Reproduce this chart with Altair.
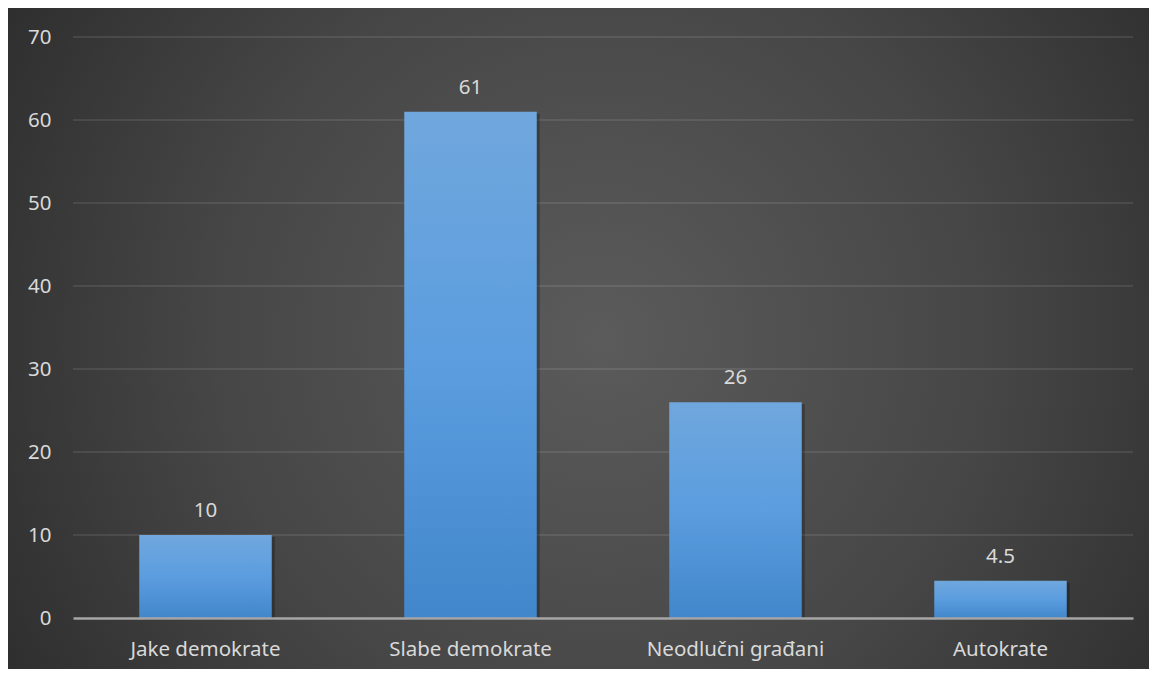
import altair as alt
import pandas as pd

categories = ["Jake demokrate", "Slabe demokrate", "Neodlučni građani", "Autokrate"]
values = [10, 61, 26, 4.5]
labels = ["10", "61", "26", "4.5"]
y_ticks = [0, 10, 20, 30, 40, 50, 60, 70]

df = pd.DataFrame({"cat": categories, "val": values, "lab": labels})
grid_df = pd.DataFrame({"t": y_ticks[1:]})

W, H = 1060, 581
PL, PT, PR, PB = 65, 29, 16, 51
FONT = "Noto Sans"
FS = 20.5

bg = alt.Chart(pd.DataFrame({"a": [0]})).mark_rect(
    fill={
        "gradient": "radial",
        "x1": 0.52, "y1": 0.5, "x2": 0.52, "y2": 0.5,
        "r1": 0, "r2": 0.68,
        "stops": [
            {"offset": 0, "color": "#5b5b5b"},
            {"offset": 0.5, "color": "#464646"},
            {"offset": 1, "color": "#272727"},
        ],
    }
).encode(
    x=alt.value(-PL), x2=alt.value(W + PR),
    y=alt.value(-PT), y2=alt.value(H + PB),
)

yscale = alt.Scale(domain=[0, 70])

grid = alt.Chart(grid_df).mark_rule(color="#ffffff", opacity=0.12, strokeWidth=1.5).encode(
    y=alt.Y("t:Q", scale=yscale),
    x=alt.value(0), x2=alt.value(W),
)

xenc = alt.X("cat:N", sort=categories, title=None,
             scale=alt.Scale(paddingInner=0.5, paddingOuter=0.25),
             axis=alt.Axis(labelAngle=0, labelPadding=31, ticks=False, zindex=1,
                           bandPosition=0.5, labelAlign="center",
                           domainColor="#a6a6a6", domainWidth=2.5, grid=False,
                           labelColor="#d9d9d9", labelFontSize=FS, labelFont=FONT))
yenc = alt.Y("val:Q", title=None, scale=yscale,
             axis=alt.Axis(values=y_ticks, domain=False, ticks=False, grid=False, zindex=1,
                           labelPadding=22, labelColor="#d9d9d9", labelFontSize=FS,
                           labelFont=FONT))

shadow = alt.Chart(df).mark_bar(color="#000000", opacity=0.25, xOffset=3, yOffset=2).encode(
    x=alt.X("cat:N", sort=categories), y=alt.Y("val:Q", scale=yscale)
)

bars = alt.Chart(df).mark_bar(
    color={
        "gradient": "linear",
        "x1": 0, "y1": 0, "x2": 0, "y2": 1,
        "stops": [
            {"offset": 0, "color": "#70a7dd"},
            {"offset": 0.5, "color": "#5b9ddf"},
            {"offset": 1, "color": "#4287cb"},
        ],
    }
).encode(x=xenc, y=yenc)

text = alt.Chart(df).mark_text(
    baseline="bottom", dy=-14, color="#d9d9d9", fontSize=FS, font=FONT
).encode(x=alt.X("cat:N", sort=categories), y=alt.Y("val:Q", scale=yscale), text="lab:N")

chart = alt.layer(bg, grid, shadow, bars, text).properties(
    width=W, height=H,
    padding={"left": PL, "top": PT, "right": PR, "bottom": PB},
    autosize=alt.AutoSizeParams(type="none"),
    background="#2a2a2a",
).configure_view(stroke=None)

chart.save("out.html", embed_options={"renderer": "svg", "actions": False})
